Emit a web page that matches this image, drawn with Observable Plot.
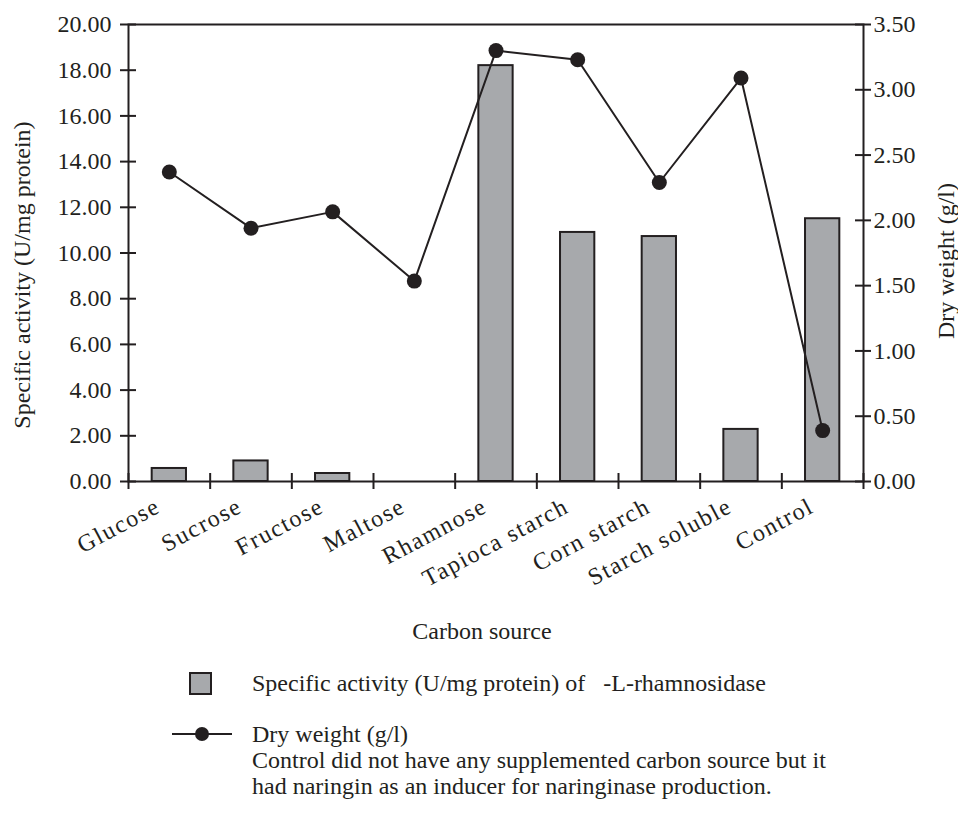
<!DOCTYPE html>
<html>
<head>
<meta charset="utf-8">
<script src="https://cdn.jsdelivr.net/npm/d3@7"></script>
<script src="https://cdn.jsdelivr.net/npm/@observablehq/plot@0.6"></script>
<style>
  html, body { margin: 0; padding: 0; background: #fff; }
  #wrap { position: relative; width: 958px; height: 823px; font-family: "Liberation Serif", "Times New Roman", serif; color: #231f20; }
  #chart svg { display: block; }
  .lg { position: absolute; font-size: 24px; line-height: 26px; white-space: pre; }
  .sw { position: absolute; left: 189px; top: 672px; width: 19px; height: 19px; background: #a7a9ac; border: 2px solid #231f20; box-sizing: content-box; }
  .ln { position: absolute; left: 172px; top: 733px; width: 60px; height: 2px; background: #231f20; }
  .dt { position: absolute; left: 195px; top: 727px; width: 14px; height: 14px; border-radius: 50%; background: #231f20; }
</style>
</head>
<body>
<div id="wrap">
  <div id="chart"></div>
  <div class="sw"></div>
  <div class="lg" style="left:252px; top:670px;">Specific activity (U/mg protein) of   -L-rhamnosidase</div>
  <div class="ln"></div>
  <div class="dt"></div>
  <div class="lg" style="left:252px; top:721px;">Dry weight (g/l)</div>
  <div class="lg" style="left:252px; top:747px;">Control did not have any supplemented carbon source but it</div>
  <div class="lg" style="left:252px; top:773px;">had naringin as an inducer for naringinase production.</div>
</div>
<script>
const categories = ["Glucose", "Sucrose", "Fructose", "Maltose", "Rhamnose", "Tapioca starch", "Corn starch", "Starch soluble", "Control"];
const activity = [0.57, 0.90, 0.35, 0, 18.2, 10.9, 10.72, 2.28, 11.5];
const dryWeight = [2.37, 1.94, 2.065, 1.535, 3.30, 3.23, 2.29, 3.09, 0.39];
const leftTicks = [0, 2, 4, 6, 8, 10, 12, 14, 16, 18, 20];
const rightTicks = [0, 0.5, 1, 1.5, 2, 2.5, 3, 3.5];

const k = 20 / 3.5; // right axis (g/l) mapped onto left axis units
const rows = categories.map((c, i) => ({c, i, a: activity[i], w: dryWeight[i]}));
const ink = "#231f20";

const chart = Plot.plot({
  width: 958,
  height: 650,
  marginLeft: 128,
  marginRight: 95,
  marginTop: 24,
  marginBottom: 169,
  style: {fontFamily: "'Liberation Serif', 'Times New Roman', serif", fontSize: "24px", color: ink, background: "white", overflow: "visible"},
  x: {domain: [0, categories.length], axis: null},
  y: {domain: [0, 20], axis: null},
  marks: [
    Plot.rectY(rows, {x1: d => d.i + 0.29, x2: d => d.i + 0.71, y1: 0, y2: "a", fill: "#a7a9ac", stroke: ink, strokeWidth: 2}),
    Plot.frame({stroke: ink, strokeWidth: 2}),
    Plot.ruleX(d3.range(0, categories.length + 1), {x: d => d, y1: 0, y2: 0, insetTop: -8, insetBottom: -8, stroke: ink, strokeWidth: 2}),
    Plot.ruleY(leftTicks, {y: d => d, x1: 0, x2: 0, insetLeft: -8, insetRight: -8, stroke: ink, strokeWidth: 2}),
    Plot.ruleY(rightTicks, {y: d => d * k, x1: categories.length, x2: categories.length, insetLeft: -8, insetRight: -8, stroke: ink, strokeWidth: 2}),
    Plot.axisY({anchor: "left", ticks: leftTicks, tickSize: 0, tickPadding: 17, tickFormat: d => d.toFixed(2), label: null, fontSize: 24}),
    Plot.axisY({anchor: "right", ticks: rightTicks.map(v => v * k), tickSize: 0, tickPadding: 10, tickFormat: d => (d / k).toFixed(2), label: null, fontSize: 24}),
    Plot.line(rows, {x: d => d.i + 0.5, y: d => d.w * k, stroke: ink, strokeWidth: 2}),
    Plot.dot(rows, {x: d => d.i + 0.5, y: d => d.w * k, r: 7.5, fill: ink, stroke: null}),
    Plot.text(rows, {x: d => d.i + 0.5, y: 0, text: "c", rotate: -28, textAnchor: "end", dx: -11, dy: 23, fontSize: 24, fill: ink}),
    Plot.text(["Specific activity (U/mg protein)"], {frameAnchor: "left", textAnchor: "middle", rotate: -90, dx: -106, dy: 22, fontSize: 24, fill: ink}),
    Plot.text(["Dry weight (g/l)"], {frameAnchor: "right", textAnchor: "middle", rotate: -90, dx: 83, dy: 8, fontSize: 24, fill: ink}),
    Plot.text(["Carbon source"], {frameAnchor: "bottom", textAnchor: "middle", lineAnchor: "middle", dx: -14, dy: 150, fontSize: 24, fill: ink})
  ]
});
// wider letter spacing on the rotated category labels, as in the original
chart.querySelectorAll("text").forEach(t => {
  if (categories.includes(t.textContent)) t.style.letterSpacing = "1.6px";
});
document.getElementById("chart").appendChild(chart);
</script>
</body>
</html>
